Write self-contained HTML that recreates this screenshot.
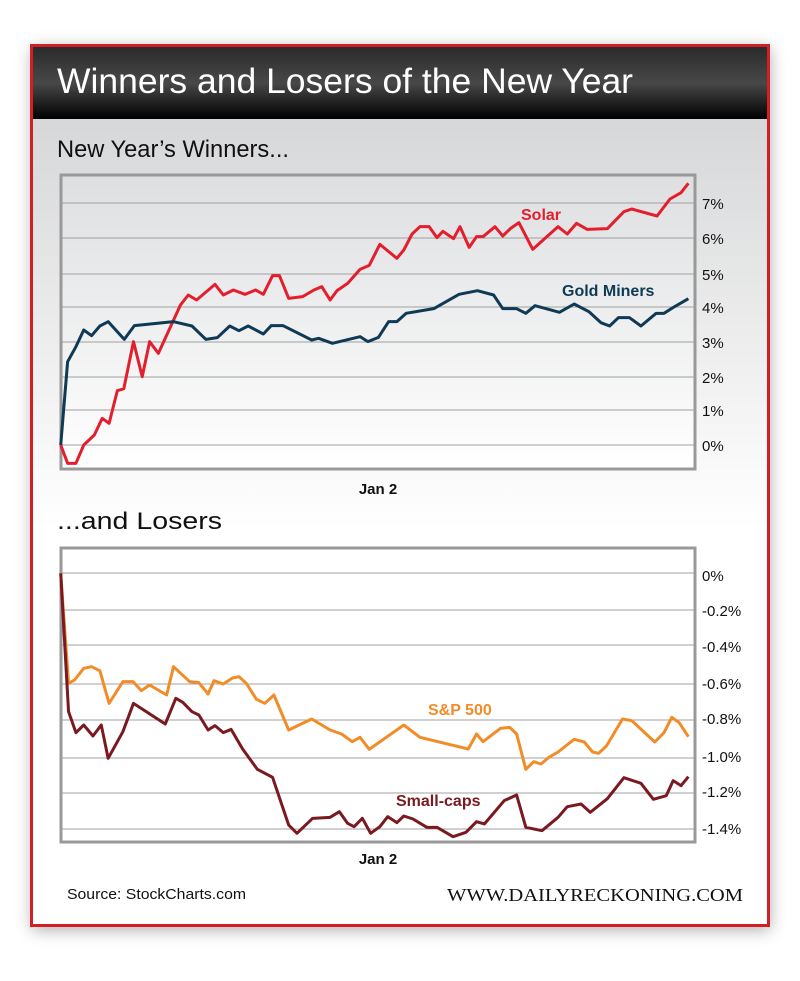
<!DOCTYPE html>
<html><head><meta charset="utf-8"><style>
body{margin:0;background:#fff;width:800px;height:976px;overflow:hidden;font-family:"Liberation Sans",sans-serif}
</style></head><body>
<svg width="800" height="976" viewBox="0 0 800 976" xmlns="http://www.w3.org/2000/svg" font-family="Liberation Sans, sans-serif">
<defs>
<linearGradient id="hd" x1="0" y1="0" x2="0" y2="1"><stop offset="0" stop-color="#2a2a2a"/><stop offset="0.5" stop-color="#484848"/><stop offset="1" stop-color="#000"/></linearGradient>
<linearGradient id="bg" x1="0" y1="0" x2="0" y2="1"><stop offset="0" stop-color="#cfd0d2"/><stop offset="0.45" stop-color="#f7f7f7"/><stop offset="0.55" stop-color="#fff"/><stop offset="1" stop-color="#fff"/></linearGradient>
<linearGradient id="c1" x1="0" y1="0" x2="0" y2="1"><stop offset="0" stop-color="#dedfe1"/><stop offset="1" stop-color="#fff"/></linearGradient>
<filter id="sh" x="-10%" y="-10%" width="120%" height="120%"><feGaussianBlur stdDeviation="8"/></filter>
</defs>
<rect x="32" y="48" width="738" height="882" fill="#777" filter="url(#sh)" opacity="0.6"/>
<rect x="31.5" y="45.5" width="737" height="880" fill="url(#bg)" stroke="#d21f26" stroke-width="3"/>
<rect x="33" y="47" width="734" height="72" fill="url(#hd)"/>
<text x="57" y="93" font-size="35" fill="#fff" textLength="576" lengthAdjust="spacingAndGlyphs">Winners and Losers of the New Year</text>
<text x="57" y="157" font-size="24" fill="#111" textLength="232" lengthAdjust="spacingAndGlyphs">New Year’s Winners...</text>
<text x="57" y="529" font-size="24" fill="#111" textLength="165" lengthAdjust="spacingAndGlyphs">...and Losers</text>
<!-- chart 1 -->
<rect x="61" y="175" width="634" height="294" fill="url(#c1)" stroke="#999" stroke-width="3"/>
<g stroke="#a0a0a0" stroke-width="1">
<line x1="62" x2="694" y1="203" y2="203"/><line x1="62" x2="694" y1="238" y2="238"/><line x1="62" x2="694" y1="274" y2="274"/><line x1="62" x2="694" y1="307" y2="307"/><line x1="62" x2="694" y1="342" y2="342"/><line x1="62" x2="694" y1="377" y2="377"/><line x1="62" x2="694" y1="410" y2="410"/><line x1="62" x2="694" y1="445" y2="445"/>
</g>
<g font-size="15" fill="#111">
<text x="702" y="209">7%</text><text x="702" y="244">6%</text><text x="702" y="280">5%</text><text x="702" y="313">4%</text><text x="702" y="348">3%</text><text x="702" y="383">2%</text><text x="702" y="416">1%</text><text x="702" y="451">0%</text>
</g>
<text x="378" y="494" font-size="15" font-weight="bold" text-anchor="middle" fill="#111">Jan 2</text>
<g transform="translate(40,160) scale(0.4605,0.33333)" fill="none" stroke-width="3" stroke-linejoin="round">
<polyline vector-effect="non-scaling-stroke" stroke="#e31e2d" points="45,855 60,910 78,910 95,855 118,825 135,775 150,790 168,692 182,686 203,545 222,650 238,545 257,580 305,435 322,405 340,420 380,373 398,405 420,390 445,403 468,390 485,403 505,347 520,347 540,415 570,410 595,390 612,380 630,420 645,392 668,370 695,328 715,316 738,253 775,295 790,270 808,222 825,200 845,200 862,233 875,214 898,236 912,200 932,262 948,230 962,230 988,200 1005,228 1022,205 1040,188 1070,268 1125,200 1145,222 1165,190 1188,208 1232,206 1268,155 1285,147 1340,168 1368,117 1392,98 1408,70"/>
<polyline vector-effect="non-scaling-stroke" stroke="#0f3a55" points="45,855 60,605 78,560 95,510 112,527 130,498 148,485 183,538 205,497 290,485 330,498 360,538 385,533 412,498 432,512 452,498 485,522 502,497 528,497 590,540 605,535 635,550 695,530 712,545 735,532 757,485 775,485 795,460 855,446 910,403 950,392 985,405 1005,446 1035,446 1055,460 1075,437 1128,457 1160,432 1192,455 1218,488 1237,498 1256,473 1280,473 1305,498 1338,460 1355,460 1378,440 1408,416"/>
</g>
<text x="521" y="220" font-size="16" font-weight="bold" fill="#e31e2d">Solar</text>
<text x="562" y="296" font-size="16" font-weight="bold" fill="#0f3a55">Gold Miners</text>
<!-- chart 2 -->
<rect x="61" y="548" width="634" height="294" fill="#fff" stroke="#999" stroke-width="3"/>
<g stroke="#a0a0a0" stroke-width="1">
<line x1="62" x2="694" y1="573" y2="573"/><line x1="62" x2="694" y1="610" y2="610"/><line x1="62" x2="694" y1="645" y2="645"/><line x1="62" x2="694" y1="684" y2="684"/><line x1="62" x2="694" y1="720" y2="720"/><line x1="62" x2="694" y1="758" y2="758"/><line x1="62" x2="694" y1="793" y2="793"/><line x1="62" x2="694" y1="829" y2="829"/>
</g>
<g font-size="15" fill="#111">
<text x="702" y="581">0%</text><text x="702" y="616">-0.2%</text><text x="702" y="652">-0.4%</text><text x="702" y="689">-0.6%</text><text x="702" y="724">-0.8%</text><text x="702" y="762">-1.0%</text><text x="702" y="797">-1.2%</text><text x="702" y="834">-1.4%</text>
</g>
<text x="378" y="864" font-size="15" font-weight="bold" text-anchor="middle" fill="#111">Jan 2</text>
<g transform="translate(40,540) scale(0.4605,0.33333)" fill="none" stroke-width="3" stroke-linejoin="round">
<polyline vector-effect="non-scaling-stroke" stroke="#f28c28" points="45,100 62,430 75,420 95,385 112,380 130,392 150,490 180,425 202,425 220,452 238,435 275,465 290,380 325,425 345,428 365,462 378,422 398,432 418,414 432,410 448,430 470,478 488,490 508,465 540,570 590,537 630,570 655,582 678,605 695,592 715,628 790,555 825,592 930,627 948,582 962,605 1000,565 1020,562 1035,582 1055,688 1072,665 1088,672 1105,652 1125,636 1160,598 1182,606 1200,636 1213,640 1230,618 1265,537 1285,542 1335,606 1355,578 1372,532 1388,548 1408,590"/>
<polyline vector-effect="non-scaling-stroke" stroke="#7a1a20" points="45,100 62,515 78,578 95,555 115,588 133,555 148,655 180,575 203,490 272,552 295,475 310,487 330,515 345,525 365,570 380,557 398,578 415,568 440,627 472,688 505,712 540,855 558,880 592,835 630,832 650,815 668,850 682,860 700,835 718,880 738,860 755,830 775,848 790,828 810,837 840,862 862,862 897,890 925,877 948,845 965,852 1008,782 1035,765 1055,862 1090,872 1125,832 1145,800 1175,792 1195,817 1232,776 1268,713 1305,730 1332,778 1360,767 1375,722 1392,737 1408,710"/>
</g>
<text x="428" y="715" font-size="16" font-weight="bold" fill="#f28c28">S&amp;P 500</text>
<text x="396" y="806" font-size="16" font-weight="bold" fill="#7a1a20">Small-caps</text>
<text x="67" y="899" font-size="15" fill="#111" textLength="179" lengthAdjust="spacingAndGlyphs">Source: StockCharts.com</text>
<text x="743" y="901" font-size="18" fill="#111" text-anchor="end" font-family="Liberation Serif, serif" textLength="296" lengthAdjust="spacingAndGlyphs">WWW.DAILYRECKONING.COM</text>
</svg>
</body></html>
